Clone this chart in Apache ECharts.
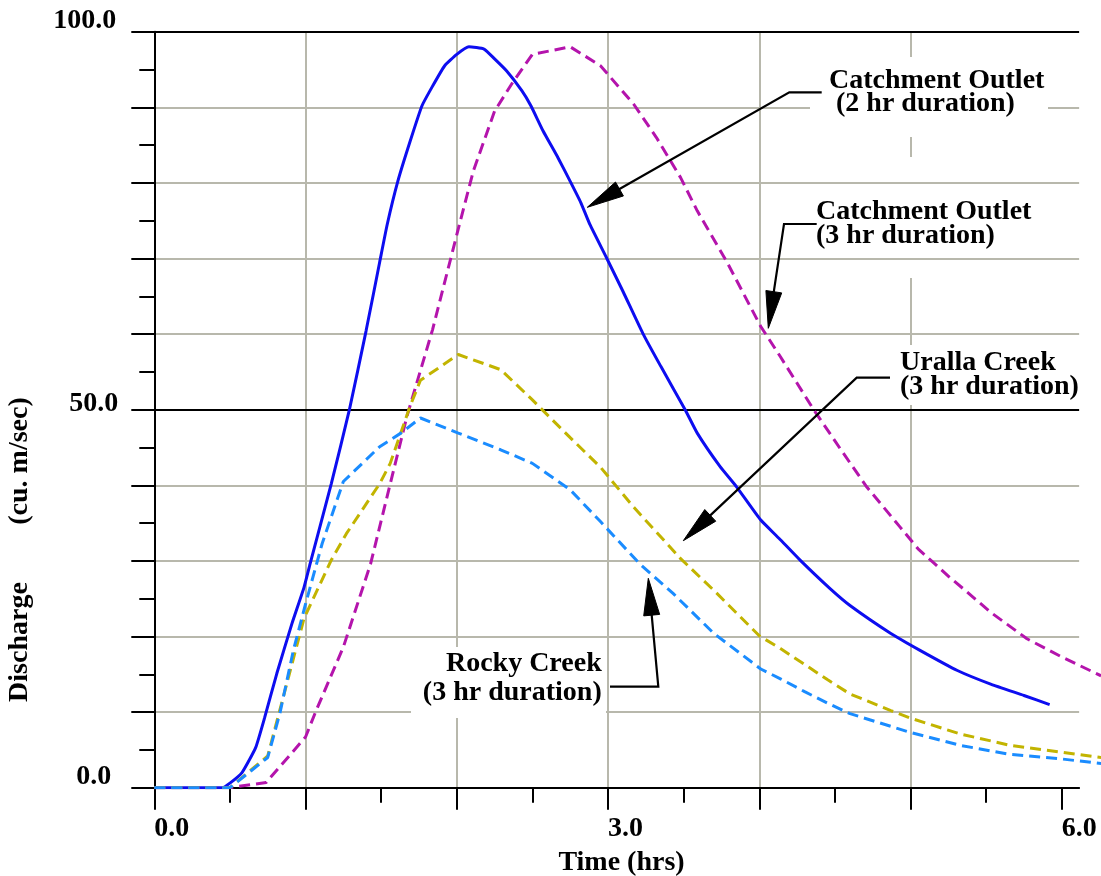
<!DOCTYPE html>
<html>
<head>
<meta charset="utf-8">
<script src="https://cdn.jsdelivr.net/npm/echarts@6/dist/echarts.min.js"></script>
<style>
  html, body { margin: 0; padding: 0; background: #ffffff; }
  #chart { width: 1101px; height: 876px; }
</style>
</head>
<body>
<div id="chart"></div>
<script>
// Flood hydrographs: time (hrs) against discharge (cu. m/sec)

// Catchment Outlet, 2 hr storm duration
const outlet2hTime = [0, 0.45, 0.50, 0.58, 0.67, 0.73, 0.81, 0.91, 0.99, 1.03, 1.17, 1.29, 1.40, 1.49, 1.54, 1.61, 1.69, 1.77, 1.84, 1.92, 2.00, 2.08, 2.18, 2.25, 2.33, 2.43, 2.49, 2.57, 2.67, 2.75, 2.82, 2.88, 2.99, 3.10, 3.23, 3.35, 3.51, 3.59, 3.74, 3.85, 4.01, 4.13, 4.27, 4.47, 4.60, 4.87, 5.06, 5.31, 5.53, 5.75, 5.92];
const outlet2hFlow = [0, 0, 0.6, 2.0, 5.3, 9.3, 15.1, 21.7, 26.5, 29.6, 40.2, 50.0, 60.4, 69.5, 74.5, 80.2, 85.4, 90.2, 92.8, 95.5, 97.0, 98.0, 97.7, 96.4, 94.8, 92.2, 90.2, 86.9, 83.3, 80.2, 77.4, 74.5, 70.1, 65.6, 60.1, 55.7, 50.0, 46.9, 42.5, 39.8, 35.4, 33.0, 30.1, 26.3, 24.1, 20.4, 18.2, 15.5, 13.7, 12.2, 11.0];

// Catchment Outlet, 3 hr storm duration
const outlet3hTime = [0, 0.50, 0.74, 1.00, 1.07, 1.25, 1.43, 1.56, 1.67, 1.84, 2.02, 2.11, 2.25, 2.37, 2.50, 2.75, 2.95, 3.17, 3.32, 3.48, 3.59, 3.79, 4.01, 4.14, 4.36, 4.54, 4.71, 4.93, 5.05, 5.15, 5.26, 5.35, 5.53, 5.77, 6.00, 6.26];
const outlet3hFlow = [0, 0, 0.7, 6.7, 10.2, 18.6, 29.6, 40.2, 49.1, 60.6, 74.7, 81.6, 89.5, 93.3, 97.0, 98.0, 95.5, 90.4, 86.0, 80.7, 76.3, 69.4, 61.0, 57.0, 50.0, 44.7, 39.8, 34.5, 31.6, 29.8, 27.8, 26.3, 23.2, 19.7, 17.3, 14.8];

// Uralla Creek, 3 hr storm duration
const urallaTime = [0, 0.50, 0.75, 0.99, 1.17, 1.27, 1.49, 1.56, 1.69, 1.76, 2.01, 2.29, 2.50, 2.75, 2.95, 3.17, 3.48, 3.70, 4.00, 4.14, 4.30, 4.45, 4.60, 4.87, 5.00, 5.33, 5.66, 6.00, 6.26];
const urallaFlow = [0, 0, 4.2, 22.4, 30.1, 33.6, 40.2, 42.9, 50.4, 53.9, 57.3, 55.3, 51.3, 46.3, 42.4, 37.1, 30.3, 26.1, 20.1, 18.4, 16.3, 14.3, 12.4, 10.2, 9.2, 7.1, 5.6, 4.7, 4.0];

// Rocky Creek, 3 hr storm duration
const rockyTime = [0, 0.50, 0.75, 0.83, 0.92, 1.00, 1.11, 1.25, 1.49, 1.63, 1.76, 2.01, 2.29, 2.50, 2.75, 2.95, 3.21, 3.43, 3.70, 4.01, 4.14, 4.30, 4.45, 4.60, 5.00, 5.33, 5.66, 6.00, 6.26];
const rockyFlow = [0, 0, 4.0, 9.8, 18.2, 24.3, 32.3, 40.5, 45.1, 46.9, 48.9, 46.9, 44.7, 42.9, 39.4, 35.2, 29.6, 25.7, 20.4, 15.7, 14.4, 12.7, 11.2, 9.8, 7.3, 5.6, 4.4, 3.8, 3.2];

// Axis ticks and labels
const xTickValues = [0, 1, 2, 3, 4, 5, 6];
const xMinorTickValues = [0.5, 1.5, 2.5, 3.5, 4.5, 5.5];
const xLabelValues = [0, 3, 6];
const yLabelValues = [0, 50, 100];

const pairs = (t, q) => t.map((v, i) => [v, q[i]]);

const FONT_FAMILY = '"Liberation Serif", "Times New Roman", serif';
const FONT = 'bold 28px ' + FONT_FAMILY;
const GRID_GRAY = '#b8b8ac';
const DASH = [11, 6];
const CURVE_WIDTH = 3;

// plot frame (px)
const PLOT_LEFT = 154.3;
const PLOT_TOP = 31.7;
const PLOT_HEIGHT = 756;
const PX_PER_HR = 151.24;
const AXIS_MAX_T = 6.115;   // extent of the drawn axis and grid
const DATA_MAX_T = 6.26;    // curves run on to the page edge

// white boxes behind callout text
const masks = [
  { x: 810, y: 57, w: 238, h: 80, z: 3 },
  { x: 812, y: 157, w: 228, h: 121, z: 1 },
  { x: 885, y: 345, w: 200, h: 60, z: 3 },
  { x: 411, y: 647, w: 195, h: 71, z: 3 }
];

// callouts: text block and leader path ending at the arrow tip
const callouts = [
  { text: 'Catchment Outlet\n (2 hr duration)', x: 829, y: 69.9, align: 'left', lh: 22.7,
    path: [[821.7, 92.3], [789.3, 92.3], [587.3, 207.3]] },
  { text: 'Catchment Outlet\n(3 hr duration)', x: 816, y: 200.6, align: 'left', lh: 23.3,
    path: [[816.7, 224], [784, 224], [768.3, 328.3]] },
  { text: 'Uralla Creek\n(3 hr duration)', x: 900, y: 350.7, align: 'left', lh: 24.3,
    path: [[890, 377.7], [856.7, 377.7], [683.3, 540.7]] },
  { text: 'Rocky Creek\n(3 hr duration)', x: 601.7, y: 649.7, align: 'right', lh: 28.4,
    path: [[610, 686.7], [658.3, 686.7], [648.3, 578.3]] }
];

function arrowGraphics(path, len, half) {
  const tip = path[path.length - 1];
  const prev = path[path.length - 2];
  const dx = tip[0] - prev[0], dy = tip[1] - prev[1];
  const d = Math.hypot(dx, dy);
  const ux = dx / d, uy = dy / d;
  const bx = tip[0] - ux * len, by = tip[1] - uy * len;
  const linePts = path.slice(0, -1).concat([[bx + ux * 4, by + uy * 4]]);
  return [
    { type: 'polyline', z: 6, shape: { points: linePts },
      style: { stroke: '#000', lineWidth: 2.2, fill: null } },
    { type: 'polygon', z: 6,
      shape: { points: [tip, [bx - uy * half, by + ux * half], [bx + uy * half, by - ux * half]] },
      style: { fill: '#000', stroke: '#000', lineWidth: 1 } }
  ];
}

const graphics = [];
masks.forEach(m => graphics.push({
  type: 'rect', z: m.z, shape: { x: m.x, y: m.y, width: m.w, height: m.h },
  style: { fill: '#ffffff' }, silent: true
}));
callouts.forEach(c => {
  arrowGraphics(c.path, 37, 8).forEach(g => graphics.push(g));
  graphics.push({
    type: 'text', z: 6, x: c.x, y: c.y,
    style: { text: c.text, font: FONT, fill: '#000', align: c.align, textAlign: c.align,
             verticalAlign: 'top', textVerticalAlign: 'top', lineHeight: c.lh }
  });
});
// axis titles
graphics.push({
  type: 'text', z: 6, x: 621.5, y: 862.5,
  style: { text: 'Time (hrs)', font: FONT, fill: '#000', align: 'center', textAlign: 'center',
           verticalAlign: 'middle', textVerticalAlign: 'middle', lineHeight: 28 }
});
graphics.push({
  type: 'text', z: 6, x: 20, y: 461, rotation: Math.PI / 2,
  style: { text: '(cu. m/sec)', font: FONT, fill: '#000', align: 'center', textAlign: 'center',
           verticalAlign: 'middle', textVerticalAlign: 'middle', lineHeight: 28 }
});
graphics.push({
  type: 'text', z: 6, x: 20, y: 642, rotation: Math.PI / 2,
  style: { text: 'Discharge', font: FONT, fill: '#000', align: 'center', textAlign: 'center',
           verticalAlign: 'middle', textVerticalAlign: 'middle', lineHeight: 28 }
});

const labelBase = { fontFamily: FONT_FAMILY, fontWeight: 'bold', fontSize: 28, color: '#000', lineHeight: 28 };
const blackTick = { color: '#000', width: 2 };

const chart = echarts.init(document.getElementById('chart'), null, { renderer: 'canvas' });

chart.setOption({
  animation: false,
  backgroundColor: '#ffffff',
  grid: [
    { left: PLOT_LEFT, top: PLOT_TOP, width: AXIS_MAX_T * PX_PER_HR, height: PLOT_HEIGHT,
      containLabel: false, outerBoundsMode: 'none' },
    { left: PLOT_LEFT, top: PLOT_TOP, width: DATA_MAX_T * PX_PER_HR, height: PLOT_HEIGHT,
      containLabel: false, outerBoundsMode: 'none' }
  ],
  xAxis: [
    { // hour ticks, labels and vertical grid
      type: 'value', gridIndex: 0, position: 'bottom', z: 0,
      min: 0, max: AXIS_MAX_T, interval: 1,
      axisLine: { show: true, onZero: false, lineStyle: { color: '#000', width: 2 } },
      axisTick: { show: true, inside: false, length: 22, lineStyle: blackTick, customValues: xTickValues },
      minorTick: { show: false },
      axisLabel: Object.assign({
        show: true, customValues: xLabelValues, align: 'left', verticalAlign: 'top', margin: 27,
        hideOverlap: false,
        formatter: v => (xLabelValues.indexOf(v) >= 0 ? v.toFixed(1) : '')
      }, labelBase),
      splitLine: { show: true, showMaxLine: false, lineStyle: { color: GRID_GRAY, width: 2 } }
    },
    { // half-hour ticks
      type: 'value', gridIndex: 0, position: 'bottom', z: 0,
      min: 0, max: AXIS_MAX_T, interval: 0.5,
      axisLine: { show: false, onZero: false },
      axisTick: { show: true, inside: false, length: 15, lineStyle: blackTick, customValues: xMinorTickValues },
      axisLabel: { show: false },
      splitLine: { show: false }
    },
    { // data axis for the curves
      type: 'value', gridIndex: 1, min: 0, max: DATA_MAX_T, show: false,
      axisLine: { show: false }, axisTick: { show: false }, axisLabel: { show: false }, splitLine: { show: false }
    }
  ],
  yAxis: [
    {
      type: 'value', gridIndex: 0, position: 'left', z: 2,
      min: 0, max: 100, interval: 10,
      axisLine: { show: true, onZero: false, lineStyle: { color: '#000', width: 2 } },
      axisTick: { show: true, inside: false, length: 23, lineStyle: blackTick },
      minorTick: { show: true, splitNumber: 2, length: 15, lineStyle: blackTick },
      axisLabel: Object.assign({
        show: true, align: 'right', verticalAlign: 'middle', margin: 36,
        formatter: v => {
          if (yLabelValues.indexOf(v) < 0) return '';
          const key = v === 100 ? 'top' : (v === 50 ? 'mid' : 'zero');
          return '{' + key + '|' + v.toFixed(1) + '}';
        },
        rich: {
          top: Object.assign({ padding: [0, 2, 21, 0] }, labelBase),
          mid: Object.assign({ padding: [0, 0, 11.5, 0] }, labelBase),
          zero: Object.assign({ padding: [0, 7, 21, 0] }, labelBase)
        }
      }, labelBase),
      splitLine: {
        show: true,
        lineStyle: {
          width: 2,
          color: ['#000000', GRID_GRAY, GRID_GRAY, GRID_GRAY, GRID_GRAY, '#000000',
                  GRID_GRAY, GRID_GRAY, GRID_GRAY, GRID_GRAY, '#000000']
        }
      }
    },
    {
      type: 'value', gridIndex: 1, min: 0, max: 100, show: false,
      axisLine: { show: false }, axisTick: { show: false }, axisLabel: { show: false }, splitLine: { show: false }
    }
  ],
  series: [
    {
      name: 'Catchment Outlet (2 hr duration)', type: 'line', xAxisIndex: 2, yAxisIndex: 1, z: 5,
      data: pairs(outlet2hTime, outlet2hFlow), showSymbol: false, symbol: 'none', smooth: 0.15,
      lineStyle: { color: '#0d0df0', width: CURVE_WIDTH, type: 'solid' }
    },
    {
      name: 'Catchment Outlet (3 hr duration)', type: 'line', xAxisIndex: 2, yAxisIndex: 1, z: 5,
      data: pairs(outlet3hTime, outlet3hFlow), showSymbol: false, symbol: 'none',
      lineStyle: { color: '#b414ac', width: CURVE_WIDTH, type: DASH }
    },
    {
      name: 'Uralla Creek (3 hr duration)', type: 'line', xAxisIndex: 2, yAxisIndex: 1, z: 5,
      data: pairs(urallaTime, urallaFlow), showSymbol: false, symbol: 'none',
      lineStyle: { color: '#c2b400', width: CURVE_WIDTH, type: DASH }
    },
    {
      name: 'Rocky Creek (3 hr duration)', type: 'line', xAxisIndex: 2, yAxisIndex: 1, z: 5,
      data: pairs(rockyTime, rockyFlow), showSymbol: false, symbol: 'none',
      lineStyle: { color: '#1a8cff', width: CURVE_WIDTH, type: DASH }
    }
  ],
  graphic: graphics
});
</script>
</body>
</html>
